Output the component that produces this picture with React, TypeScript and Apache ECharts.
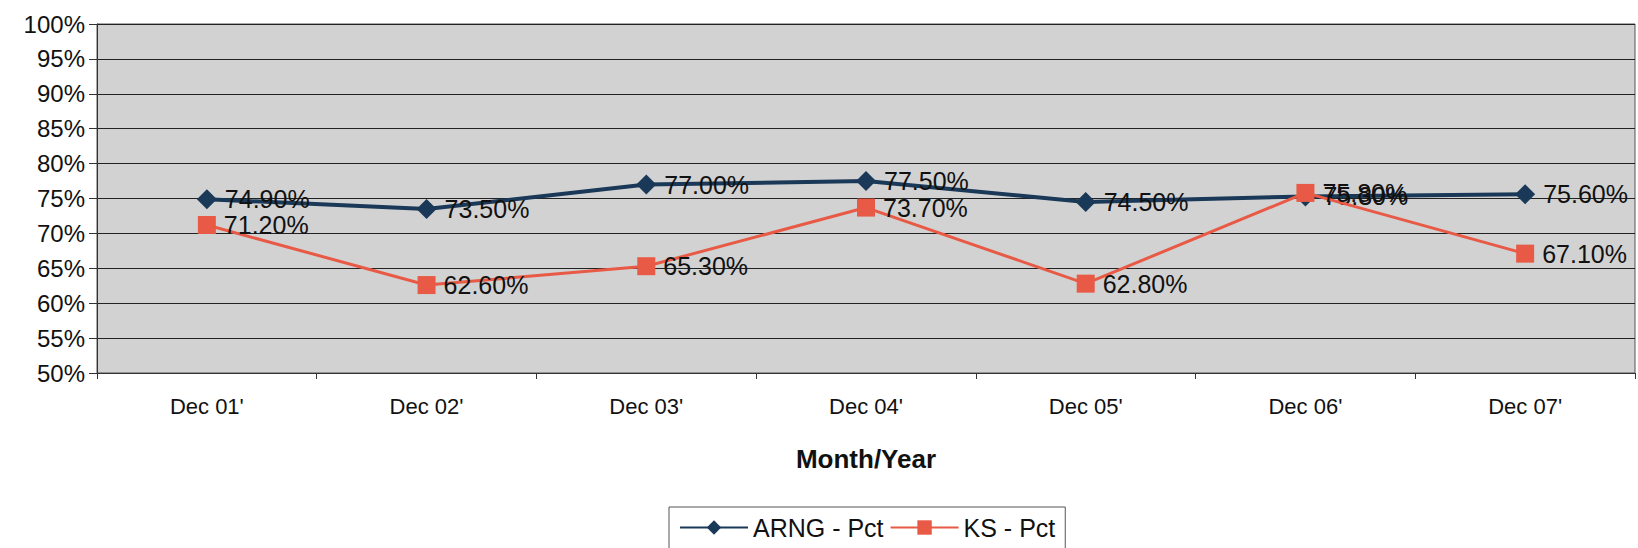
import React, { useEffect, useRef } from "react";
import * as echarts from "echarts";

const categories = ["Dec 01'", "Dec 02'", "Dec 03'", "Dec 04'", "Dec 05'", "Dec 06'", "Dec 07'"];
const arngPct = [74.9, 73.5, 77.0, 77.5, 74.5, 75.3, 75.6];
const ksPct = [71.2, 62.6, 65.3, 73.7, 62.8, 75.8, 67.1];
const yTicks = [50, 55, 60, 65, 70, 75, 80, 85, 90, 95, 100];

export default function App() {
  const ref = useRef<HTMLDivElement>(null);
  useEffect(() => {
    if (!ref.current) return;
    const chart = echarts.init(ref.current, null, { renderer: "svg" });
    const font = "Liberation Sans, Arial, sans-serif";
    const label = {
      show: true,
      position: "right" as const,
      distance: 8,
      color: "#111",
      fontSize: 25,
      fontFamily: font,
      formatter: (p: any) => p.value.toFixed(2) + "%",
    };
    chart.setOption({
      animation: false,
      backgroundColor: "#fff",
      grid: {
        left: 97,
        right: 3,
        top: 24,
        bottom: 175,
        show: true,
        backgroundColor: "#d2d2d2",
        borderColor: "#555",
        borderWidth: 1,
      },
      xAxis: {
        type: "category",
        data: categories,
        boundaryGap: true,
        axisLine: { lineStyle: { color: "#333", width: 1 } },
        axisTick: { show: true, alignWithLabel: false, length: 6, lineStyle: { color: "#333" } },
        axisLabel: { color: "#111", fontSize: 22, fontFamily: font, margin: 22 },
        name: "Month/Year",
        nameLocation: "middle",
        nameGap: 73,
        nameTextStyle: { color: "#111", fontSize: 26, fontWeight: "bold", fontFamily: font },
      },
      yAxis: {
        type: "value",
        min: yTicks[0],
        max: yTicks[yTicks.length - 1],
        interval: 5,
        axisLine: { show: true, lineStyle: { color: "#333" } },
        axisTick: { show: true, length: 8, lineStyle: { color: "#333" } },
        axisLabel: { color: "#111", fontSize: 24, fontFamily: font, margin: 12, formatter: "{value}%" },
        splitLine: { show: true, lineStyle: { color: "#222", width: 1 } },
      },
      legend: {
        bottom: -4,
        left: 669,
        itemWidth: 68,
        itemHeight: 18,
        itemGap: 6,
        padding: [8, 10, 12, 10],
        borderColor: "#555",
        borderWidth: 1,
        textStyle: { color: "#111", fontSize: 25, fontFamily: font },
        data: ["ARNG - Pct", "KS - Pct"],
      },
      series: [
        {
          name: "ARNG - Pct",
          type: "line",
          data: arngPct,
          symbol: "diamond",
          symbolSize: 20,
          itemStyle: { color: "#1a3857" },
          lineStyle: { color: "#1a3857", width: 4 },
          label,
          z: 3,
        },
        {
          name: "KS - Pct",
          type: "line",
          data: ksPct,
          symbol: "rect",
          symbolSize: 18,
          itemStyle: { color: "#e85a45" },
          lineStyle: { color: "#e85a45", width: 3 },
          label,
          z: 4,
        },
      ],
    });
    return () => chart.dispose();
  }, []);
  return <div ref={ref} style={{ width: 1638, height: 548, position: "absolute", left: 0, top: 0 }} />;
}
